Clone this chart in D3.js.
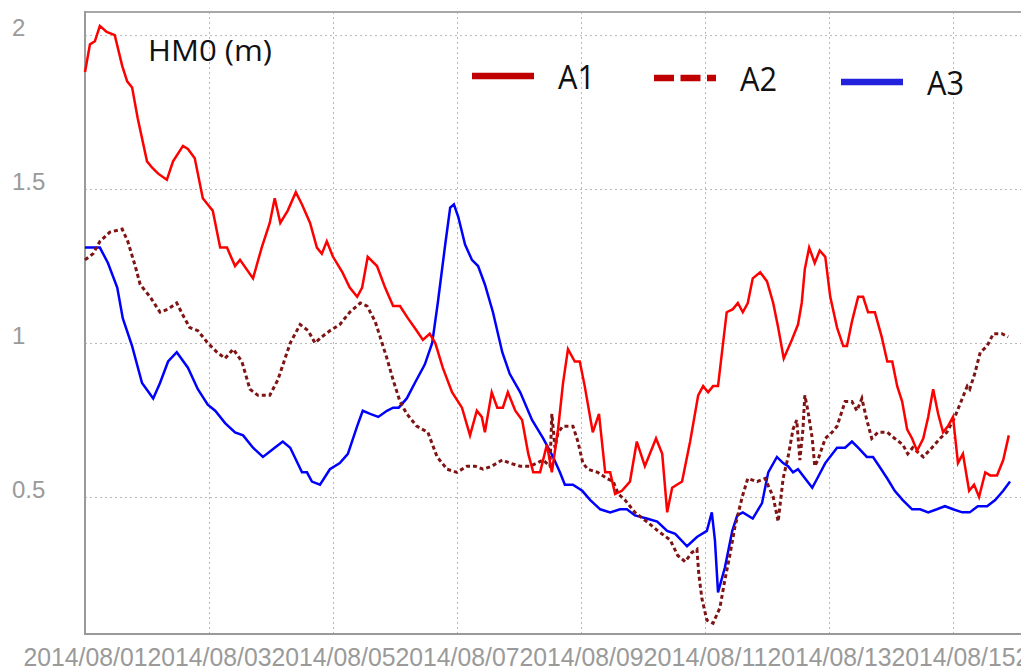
<!DOCTYPE html>
<html>
<head>
<meta charset="utf-8">
<script src="https://cdn.jsdelivr.net/npm/d3@7/dist/d3.min.js"></script>
<style>
  body {margin: 0; background: #fff;}
  .tick text {font-family: "Liberation Sans", Arial, sans-serif; fill: #9a9a9a;}
</style>
</head>
<body>
<div class="chartWrap"></div>
<script>
//Data: [days since 2014/08/01 00:00, HM0 in metres]
const startDate = new Date(2014, 7, 1),
      endDate = new Date(2014, 7, 16);
const seriesNames = ["A1", "A2", "A3"];
const yTicks = [0.5, 1, 1.5, 2];
const xTickDays = [0, 2, 4, 6, 8, 10, 12, 14, 16]; //last one only peeks in at the right edge

const a1 = [[0,1.88],[0.08,1.97],[0.16,1.98],[0.24,2.03],[0.35,2.01],[0.48,2.00],[0.60,1.90],[0.68,1.85],[0.76,1.83],[0.85,1.73],
  [1.00,1.59],[1.08,1.57],[1.18,1.55],[1.32,1.53],[1.42,1.59],[1.58,1.64],[1.66,1.63],[1.77,1.60],[1.90,1.47],[1.98,1.45],
  [2.06,1.43],[2.18,1.31],[2.29,1.31],[2.42,1.25],[2.50,1.27],[2.71,1.21],[2.85,1.31],[2.98,1.39],[3.06,1.47],[3.15,1.39],
  [3.27,1.43],[3.40,1.49],[3.50,1.45],[3.63,1.39],[3.74,1.31],[3.82,1.29],[3.90,1.33],[4.00,1.28],[4.15,1.23],[4.27,1.18],
  [4.39,1.15],[4.47,1.18],[4.56,1.28],[4.71,1.25],[4.84,1.18],[4.97,1.12],[5.08,1.12],[5.21,1.08],[5.35,1.04],[5.45,1.01],
  [5.56,1.03],[5.65,1.00],[5.77,0.92],[5.92,0.84],[6.08,0.79],[6.21,0.70],[6.32,0.78],[6.40,0.76],[6.45,0.71],[6.56,0.84],
  [6.65,0.79],[6.74,0.79],[6.82,0.84],[6.94,0.78],[7.05,0.75],[7.15,0.64],[7.23,0.58],[7.34,0.58],[7.45,0.67],[7.53,0.58],
  [7.63,0.72],[7.71,0.87],[7.79,0.98],[7.90,0.94],[7.98,0.94],[8.06,0.86],[8.19,0.71],[8.29,0.77],[8.39,0.58],[8.47,0.58],
  [8.55,0.51],[8.66,0.52],[8.79,0.55],[8.90,0.68],[9.03,0.60],[9.21,0.69],[9.31,0.64],[9.39,0.45],[9.47,0.53],[9.63,0.55],
  [9.76,0.68],[9.89,0.83],[9.97,0.86],[10.05,0.84],[10.13,0.86],[10.21,0.86],[10.35,1.10],[10.45,1.11],[10.53,1.13],[10.61,1.10],
  [10.69,1.13],[10.77,1.21],[10.89,1.23],[11.00,1.20],[11.10,1.13],[11.18,1.05],[11.27,0.95],[11.40,1.01],[11.50,1.06],[11.56,1.13],
  [11.61,1.24],[11.68,1.31],[11.77,1.26],[11.85,1.30],[11.94,1.28],[12.02,1.15],[12.13,1.05],[12.23,0.99],[12.29,0.99],[12.37,1.07],
  [12.47,1.15],[12.55,1.15],[12.63,1.10],[12.74,1.10],[12.85,1.02],[12.94,0.94],[13.02,0.94],[13.10,0.86],[13.18,0.81],[13.26,0.72],
  [13.34,0.69],[13.42,0.65],[13.52,0.69],[13.60,0.76],[13.68,0.85],[13.76,0.77],[13.84,0.71],[13.92,0.73],[14.00,0.76],[14.08,0.61],
  [14.16,0.64],[14.26,0.52],[14.34,0.54],[14.42,0.50],[14.52,0.58],[14.60,0.57],[14.71,0.57],[14.81,0.62],[14.90,0.70]];

const a2 = [[0,1.27],[0.13,1.29],[0.24,1.33],[0.40,1.36],[0.60,1.37],[0.69,1.33],[0.81,1.25],[0.89,1.19],[1.05,1.15],[1.21,1.10],
  [1.34,1.11],[1.48,1.13],[1.58,1.09],[1.69,1.05],[1.82,1.04],[1.98,1.00],[2.13,0.97],[2.26,0.95],[2.39,0.98],[2.53,0.94],
  [2.66,0.85],[2.79,0.83],[2.98,0.83],[3.11,0.88],[3.31,1.00],[3.47,1.06],[3.60,1.04],[3.71,1.00],[3.82,1.02],[3.95,1.04],
  [4.11,1.06],[4.27,1.10],[4.44,1.13],[4.55,1.12],[4.68,1.07],[4.76,1.02],[4.87,0.95],[4.97,0.88],[5.08,0.81],[5.19,0.77],
  [5.35,0.73],[5.53,0.71],[5.68,0.63],[5.84,0.59],[6.00,0.58],[6.16,0.60],[6.29,0.60],[6.42,0.59],[6.56,0.60],[6.73,0.62],
  [6.85,0.61],[7.02,0.60],[7.18,0.60],[7.29,0.61],[7.39,0.62],[7.50,0.60],[7.53,0.77],[7.58,0.66],[7.63,0.71],[7.71,0.73],
  [7.87,0.73],[7.95,0.68],[8.03,0.61],[8.11,0.59],[8.27,0.58],[8.42,0.56],[8.52,0.55],[8.60,0.51],[8.71,0.49],[8.87,0.45],
  [9.06,0.42],[9.24,0.39],[9.44,0.36],[9.56,0.31],[9.68,0.29],[9.79,0.32],[9.87,0.33],[9.90,0.25],[9.95,0.17],[10.03,0.10],
  [10.13,0.09],[10.24,0.14],[10.32,0.23],[10.40,0.31],[10.48,0.40],[10.60,0.50],[10.69,0.56],[10.84,0.55],[10.97,0.56],[11.10,0.50],
  [11.18,0.42],[11.26,0.56],[11.34,0.63],[11.42,0.72],[11.48,0.75],[11.53,0.62],[11.58,0.72],[11.61,0.83],[11.66,0.78],[11.73,0.69],
  [11.77,0.60],[11.82,0.62],[11.94,0.69],[12.05,0.71],[12.13,0.73],[12.26,0.81],[12.37,0.81],[12.45,0.78],[12.53,0.82],[12.61,0.75],
  [12.69,0.69],[12.79,0.71],[12.94,0.71],[13.06,0.69],[13.19,0.67],[13.27,0.64],[13.35,0.66],[13.52,0.63],[13.66,0.66],[13.79,0.69],
  [13.90,0.71],[14.03,0.76],[14.15,0.82],[14.23,0.86],[14.27,0.85],[14.35,0.90],[14.44,0.97],[14.55,0.99],[14.65,1.03],[14.79,1.03],
  [14.89,1.02]];

const a3 = [[0,1.31],[0.24,1.31],[0.37,1.26],[0.52,1.18],[0.61,1.08],[0.76,0.99],[0.92,0.87],[1.10,0.82],[1.21,0.87],[1.34,0.94],
  [1.48,0.97],[1.66,0.92],[1.82,0.85],[1.98,0.80],[2.10,0.78],[2.26,0.74],[2.42,0.71],[2.55,0.70],[2.71,0.66],[2.87,0.63],
  [3.06,0.66],[3.19,0.68],[3.31,0.66],[3.50,0.58],[3.58,0.58],[3.66,0.55],[3.79,0.54],[3.95,0.59],[4.11,0.61],[4.24,0.64],
  [4.39,0.73],[4.48,0.78],[4.60,0.77],[4.73,0.76],[4.87,0.78],[4.97,0.79],[5.06,0.79],[5.19,0.82],[5.32,0.87],[5.48,0.93],
  [5.60,1.00],[5.69,1.13],[5.81,1.32],[5.89,1.44],[5.95,1.45],[6.02,1.41],[6.13,1.32],[6.24,1.27],[6.34,1.25],[6.45,1.19],
  [6.58,1.10],[6.73,0.97],[6.85,0.90],[7.02,0.84],[7.21,0.75],[7.39,0.69],[7.55,0.63],[7.66,0.58],[7.74,0.54],[7.87,0.54],
  [8.02,0.52],[8.15,0.49],[8.31,0.46],[8.47,0.45],[8.63,0.46],[8.74,0.46],[8.87,0.44],[9.06,0.43],[9.23,0.42],[9.39,0.39],
  [9.52,0.38],[9.71,0.34],[9.87,0.37],[10.03,0.39],[10.11,0.45],[10.16,0.36],[10.21,0.19],[10.32,0.27],[10.44,0.39],[10.52,0.44],
  [10.61,0.45],[10.77,0.43],[10.92,0.48],[11.02,0.58],[11.16,0.63],[11.26,0.61],[11.34,0.60],[11.42,0.58],[11.50,0.59],[11.73,0.53],
  [11.81,0.56],[11.94,0.61],[12.13,0.66],[12.26,0.66],[12.37,0.68],[12.47,0.66],[12.61,0.63],[12.71,0.63],[12.81,0.60],[12.94,0.56],
  [13.06,0.52],[13.19,0.49],[13.34,0.46],[13.47,0.46],[13.60,0.45],[13.74,0.46],[13.87,0.47],[14.00,0.46],[14.15,0.45],[14.27,0.45],
  [14.40,0.47],[14.55,0.47],[14.68,0.49],[14.81,0.52],[14.92,0.55]];

//Layout
const W = 1021, H = 671;
const margin = {top: 12, right: 6, bottom: 37, left: 85};
const dayMs = 864e5;
const toDate = d => new Date(startDate.getTime() + d * dayMs);

const svg = d3.select(".chartWrap").append("svg").attr("width", W).attr("height", H);

const x = d3.scaleTime().domain([startDate, endDate]).range([margin.left, W - margin.right]);
const y = d3.scaleLinear().domain([0.055, 2.075]).range([H - margin.bottom, margin.top]);

//Grid (dotted)
const gridX = svg.append("g").attr("transform", `translate(0,${H - margin.bottom})`)
  .call(d3.axisBottom(x).tickValues(xTickDays.map(toDate)).tickSize(-(H - margin.bottom - margin.top)).tickFormat(""));
gridX.select(".domain").remove();
gridX.selectAll("line").attr("stroke", "#b8b8b8").attr("stroke-dasharray", "2,3");

const gridY = svg.append("g").attr("transform", `translate(${margin.left},0)`)
  .call(d3.axisLeft(y).tickValues(yTicks).tickSize(-(W - margin.left)).tickFormat(""));
gridY.select(".domain").remove();
gridY.selectAll("line").attr("stroke", "#b8b8b8").attr("stroke-dasharray", "2,3");

//X axis labels
const xAxis = svg.append("g").attr("transform", `translate(0,${H - margin.bottom})`)
  .call(d3.axisBottom(x).tickValues(xTickDays.map(toDate)).tickSize(0).tickFormat(d3.timeFormat("%Y/%m/%d")));
xAxis.select(".domain").remove();
xAxis.selectAll("text").attr("y", 32).attr("dy", 0).attr("font-size", 25)
  .attr("textLength", 124).attr("lengthAdjust", "spacingAndGlyphs");

//Y axis labels (left aligned at page edge)
const yAxis = svg.append("g").attr("transform", `translate(${margin.left},0)`)
  .call(d3.axisLeft(y).tickValues(yTicks).tickSize(0).tickFormat(d3.format("")));
yAxis.select(".domain").remove();
yAxis.selectAll("text").attr("text-anchor", "start").attr("x", 12 - margin.left)
  .attr("dy", "0.02em").attr("font-size", 24);

//Frame
svg.append("line").attr("x1", margin.left).attr("x2", W).attr("y1", margin.top).attr("y2", margin.top)
  .attr("stroke", "#a8a8a8").attr("stroke-width", 2);
svg.append("line").attr("x1", margin.left).attr("x2", margin.left).attr("y1", margin.top - 1).attr("y2", H - margin.bottom + 1)
  .attr("stroke", "#9a9a9a").attr("stroke-width", 2);
svg.append("line").attr("x1", margin.left).attr("x2", W).attr("y1", H - margin.bottom).attr("y2", H - margin.bottom)
  .attr("stroke", "#9a9a9a").attr("stroke-width", 2);

//Lines
const line = d3.line().x(d => x(toDate(d[0]))).y(d => y(d[1]));
svg.append("path").datum(a3).attr("d", line).attr("fill", "none").attr("stroke", "#0000ff").attr("stroke-width", 2.5);
svg.append("path").datum(a2).attr("d", line).attr("fill", "none").attr("stroke", "#7f1414").attr("stroke-width", 3)
  .attr("stroke-dasharray", "4,3");
svg.append("path").datum(a1).attr("d", line).attr("fill", "none").attr("stroke", "#ff0000").attr("stroke-width", 2.5);

//Title
svg.append("text").text("HM0 (m)").attr("x", 148).attr("y", 61)
  .attr("font-family", "'Open Sans', sans-serif").attr("font-size", 30).attr("fill", "#111")
  .attr("textLength", 124).attr("lengthAdjust", "spacingAndGlyphs");

//Legend
const legendColors = ["#c00000", "#c00000", "#2222dd"],
      legendDash = [null, "20,6.5", null],
      legendX = [472, 654, 841],
      legendY = [76, 78, 82];
seriesNames.forEach(function(name, i) {
  svg.append("line").attr("x1", legendX[i]).attr("x2", legendX[i] + 62).attr("y1", legendY[i]).attr("y2", legendY[i])
    .attr("stroke", legendColors[i]).attr("stroke-width", 6.5).attr("stroke-dasharray", legendDash[i]);
  svg.append("text").text(name).attr("x", legendX[i] + 86).attr("y", legendY[i] + 13)
    .attr("font-family", "'Open Sans', sans-serif").attr("font-size", 32).attr("fill", "#111")
    .attr("textLength", 37).attr("lengthAdjust", "spacingAndGlyphs");
});
</script>
</body>
</html>
